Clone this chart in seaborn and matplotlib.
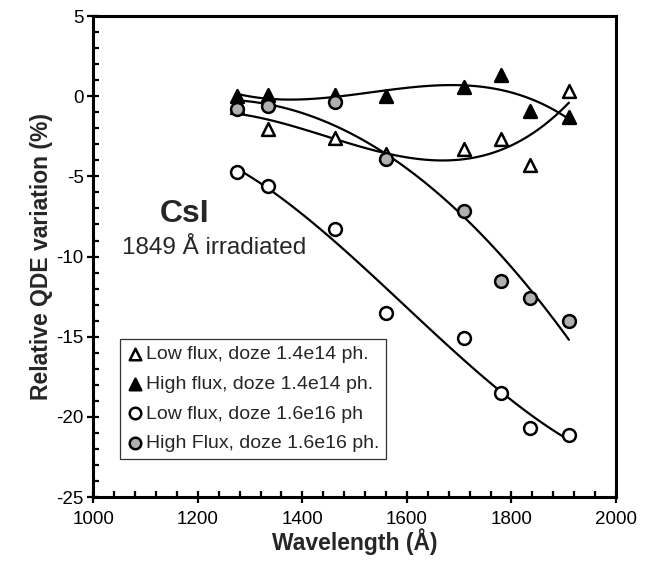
import matplotlib
matplotlib.use('Agg')
import matplotlib.pyplot as plt
import seaborn as sns
from matplotlib.ticker import MultipleLocator

# data
wavelength = [1275, 1335, 1462, 1560, 1710, 1780, 1835, 1910]
low_flux_14 = [-0.7, -2.05, -2.6, -3.6, -3.3, -2.7, -4.3, 0.35]
high_flux_14 = [0.0, 0.05, 0.1, 0.0, 0.55, 1.3, -0.9, -1.3]
low_flux_16 = [-4.7, -5.6, -8.3, -13.5, -15.05, -18.5, -20.7, -21.15]
high_flux_16 = [-0.8, -0.6, -0.35, -3.9, -7.15, -11.5, -12.6, -14.0]

labels = ['Low flux, doze 1.4e14 ph.', 'High flux, doze 1.4e14 ph.',
          'Low flux, doze 1.6e16 ph', 'High Flux, doze 1.6e16 ph.']

sns.set_theme(style='ticks')
plt.rcParams['font.family'] = ['Liberation Sans', 'DejaVu Sans']
plt.rcParams['axes.unicode_minus'] = False

fig = plt.figure(figsize=(6.46, 5.72), dpi=100)
ax = fig.add_axes([0.1444, 0.131, 0.8091, 0.841])

# (values, label, marker, face colour, trendline order)
series = [
    (low_flux_14, labels[0], '^', 'white', 3),
    (high_flux_14, labels[1], '^', 'black', 3),
    (low_flux_16, labels[2], 'o', 'white', 3),
    (high_flux_16, labels[3], 'o', '#b0b0b0', 2),
]

# polynomial trend lines + markers
for vals, label, marker, face, order in series:
    sns.regplot(x=wavelength, y=vals, order=order, ci=None, scatter=False,
                truncate=True, color='black', line_kws={'lw': 1.6}, ax=ax)
for vals, label, marker, face, order in series:
    sns.scatterplot(x=wavelength, y=vals, marker=marker, s=85, color=face,
                    edgecolor='black', linewidth=1.8, label=label, ax=ax, zorder=3)

ax.set_xlim(1000, 2000)
ax.set_ylim(-25, 5)
ax.xaxis.set_major_locator(MultipleLocator(200))
ax.xaxis.set_minor_locator(MultipleLocator(40))
ax.yaxis.set_major_locator(MultipleLocator(5))
ax.yaxis.set_minor_locator(MultipleLocator(1))
ax.tick_params(which='major', direction='inout', length=8, width=1.6,
               labelsize=13.5, pad=3, color='black', labelcolor='black')
ax.tick_params(axis='x', which='major', pad=6)
ax.tick_params(which='minor', direction='in', length=4, width=1.6, color='black')
for s in ax.spines.values():
    s.set_linewidth(2.2)
    s.set_color('black')

ax.set_xlabel('Wavelength (Å)', fontsize=16.5, fontweight='bold', labelpad=0)
ax.set_ylabel('Relative QDE variation (%)', fontsize=16.5, fontweight='bold', labelpad=2)

ax.text(1175, -7.35, 'CsI', fontsize=23, fontweight='bold', ha='center', va='center')
ax.text(1054, -9.45, '1849 Å irradiated', fontsize=17.5, ha='left', va='center')

leg = ax.legend(loc='upper left', bbox_to_anchor=(0.052, 0.329), borderaxespad=0,
                fontsize=14, frameon=True, fancybox=False, edgecolor='black',
                handlelength=0.8, handletextpad=0.15, borderpad=0.35,
                labelspacing=0.62, markerscale=0.9)
leg.get_frame().set_linewidth(0.9)

fig.savefig('out.png', dpi=100)
